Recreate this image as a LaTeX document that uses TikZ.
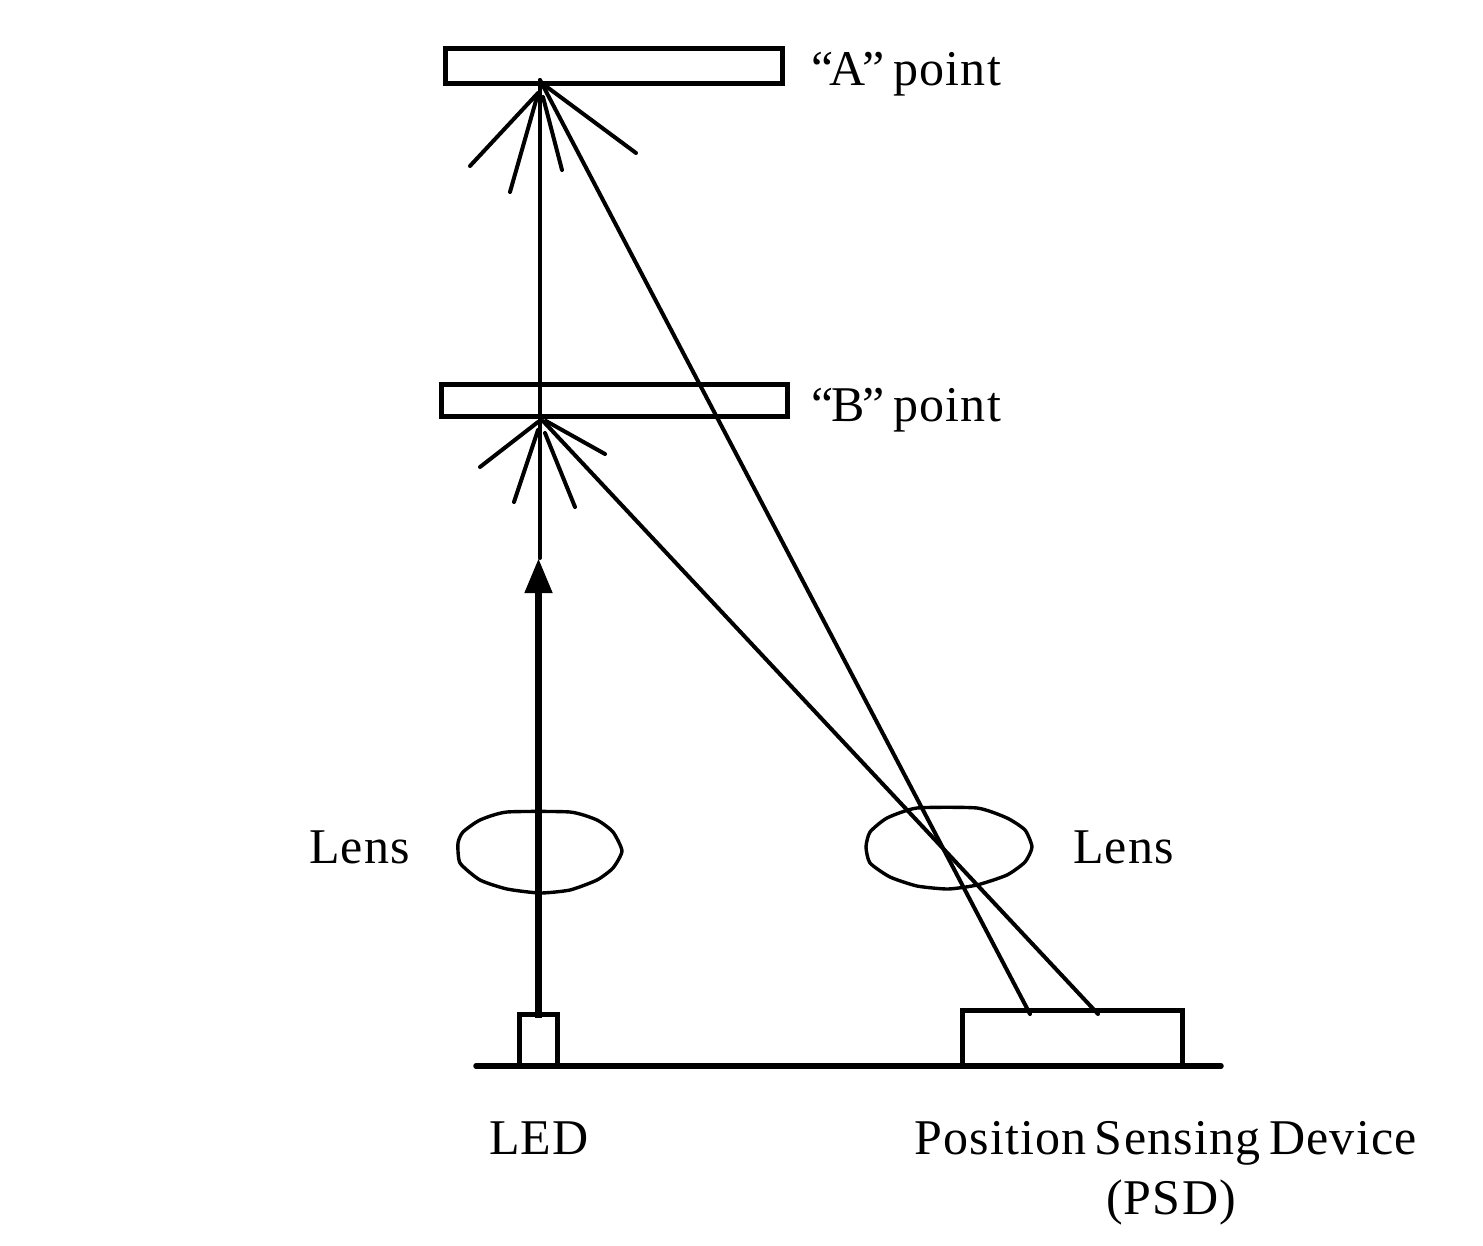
\documentclass[tikz,border=0pt]{standalone}
\usepackage{fontspec}
\setmainfont{Liberation Serif}[LetterSpace=2.5,WordSpace=0.6]
\usetikzlibrary{arrows.meta}
\tikzset{
  every picture/.style={x=1pt,y=-1pt},
  plate/.style={draw=black,line width=5pt,fill=white,inner sep=0pt,outer sep=0pt,anchor=north west},
  ray/.style={draw=black,line width=4pt,line cap=round},
  beam/.style={draw=black,line width=7.5pt,-{Triangle[length=35pt,width=26pt]}},
  lensline/.style={draw=black,line width=3.4pt,smooth cycle,tension=0.35},
  base/.style={draw=black,line width=5.5pt,line cap=round},
  box/.style={draw=black,line width=5pt,inner sep=0pt,outer sep=0pt},
  label/.style={inner sep=0pt,outer sep=0pt,anchor=base west,font=\fontsize{50}{60}\selectfont}
}
\begin{document}
\begin{tikzpicture}
\useasboundingbox (0,0) rectangle (1483,1245);
% coordinates
\coordinate (apexA) at (540,80);
\coordinate (apexB) at (541,420);
\coordinate (sa1) at (538,93);
\coordinate (sa2) at (537,97);
\coordinate (sa3) at (543,97);
\coordinate (sa4) at (547,87);
\coordinate (sb1) at (538,422);
\coordinate (sb2) at (538,430);
\coordinate (sb3) at (545,433);
\coordinate (sb4) at (546,421);
\coordinate (sbl) at (543,421);
\coordinate (a1) at (470,166);
\coordinate (a2) at (510,192);
\coordinate (a3) at (562,170);
\coordinate (a4) at (636,153);
\coordinate (b1) at (480,467);
\coordinate (b2) at (514,502);
\coordinate (b3) at (575,507);
\coordinate (b4) at (605,454);
\coordinate (hitA) at (1030,1014);
\coordinate (hitB) at (1098,1014);
\coordinate (thinend) at (540,558);
\coordinate (beamstart) at (538.5,1018);
\coordinate (beamend) at (538.5,558);
\coordinate (baseL) at (476,1066);
\coordinate (baseR) at (1221,1066);
% plates
\node[plate,minimum width=337pt,minimum height=35pt] (plateA) at (445,48) {};
\node[plate,minimum width=346pt,minimum height=32pt] (plateB) at (441,384) {};
% lenses
\draw[lensline] plot coordinates {(507,812) (570,812) (597,820) (613,832) (622,851) (613,868) (597,880) (570,890) (540,893) (507,889) (480,880) (460,863) (458,843) (463,832) (480,820)};
\draw[lensline] plot coordinates {(917,808) (977,808) (1007,818) (1025,830) (1032,847) (1025,862) (1007,875) (977,885) (948,889) (917,886) (890,877) (870,863) (866,847) (870,832) (887,818)};
% devices
\node[box,minimum width=38pt,minimum height=52pt,anchor=north west] (led) at (519,1014) {};
\node[box,minimum width=220pt,minimum height=56pt,anchor=north west] (psd) at (962,1010) {};
\draw[base] (baseL) -- (baseR);
% rays
\draw[ray] (apexA) -- (thinend);
\draw[ray] (sa1) -- (a1);
\draw[ray] (sa2) -- (a2);
\draw[ray] (sa3) -- (a3);
\draw[ray] (sa4) -- (a4);
\draw[ray] (sb1) -- (b1);
\draw[ray] (sb2) -- (b2);
\draw[ray] (sb3) -- (b3);
\draw[ray] (sb4) -- (b4);
\draw[ray] (apexA) -- (hitA);
\draw[ray] (sbl) -- (hitB);
\draw[beam] (beamstart) -- (beamend);
% labels
\node[label] (la) at (811,85) {“\kern-3.5pt A\kern-3pt ” point};
\node[label] (lb) at (811,421) {“\kern-1.5pt B\kern-2.3pt ” point};
\node[label] (l1) at (309,863) {Lens};
\node[label] (l2) at (1073,863) {Lens};
\node[label] (lled) at (489,1154) {LED};
\node[label] (lpsd) at (914,1154) {Position Sensing Device};
\node[label] (lpsd2) at (1106,1214) {(PSD)};
\end{tikzpicture}
\end{document}
